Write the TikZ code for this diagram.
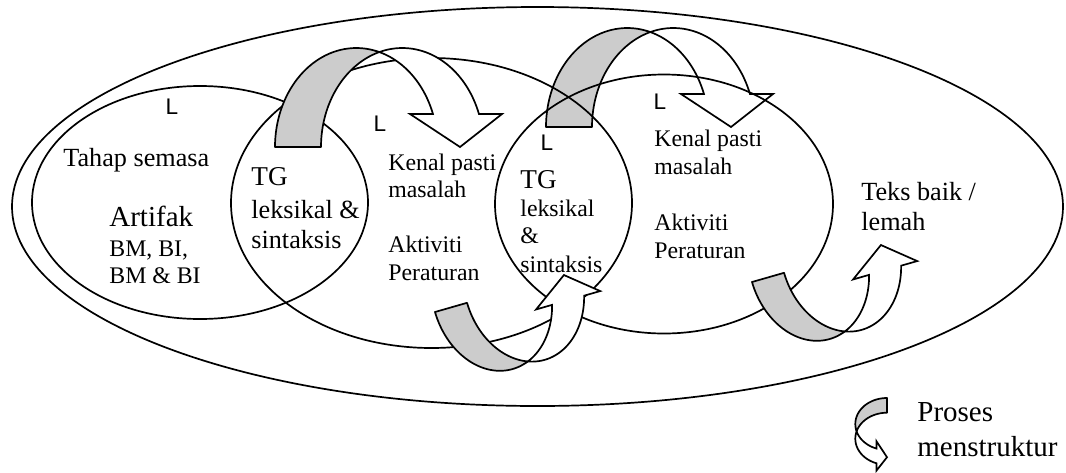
\documentclass[tikz,border=0pt]{standalone}
\usepackage{fontspec}
\setmainfont{Liberation Serif}
\newfontfamily\lfont{Liberation Sans}
\usetikzlibrary{shapes.geometric}

% twisted u-turn arrow: grey from the base up to the fold, white down to the head
\tikzset{
  twistarrow/.pic={
    \filldraw[greyband] (0,0)
      -- plot[arcpts, domain=180:73.57] ({81.3+81.3*cos(\x)},{-99*sin(\x)})
      -- plot[arcpts, domain=106.43:180] ({127.3+81.3*cos(\x)},{-99*sin(\x)})
      -- cycle;
    \filldraw[whiteband] plot[arcpts, domain=106.43:19.47] ({127.3+81.3*cos(\x)},{-99*sin(\x)})
      -- (227,-33) -- (185,0) -- (135,-33)
      -- plot[arcpts, domain=19.47:73.57] ({81.3+81.3*cos(\x)},{-99*sin(\x)})
      -- cycle;
  }
}

\begin{document}
\begin{tikzpicture}[x=0.5pt, y=-0.5pt,
    ring/.style={draw, ellipse, line width=0.85pt, inner sep=0pt},
    greyband/.style={draw, fill=gray!40, line width=0.85pt, line join=round},
    whiteband/.style={draw, fill=white, line width=0.85pt, line join=miter},
    arcpts/.style={samples=40},
    lbl/.style={font=\lfont\fontsize{11.3}{13}\selectfont, inner sep=0pt},
    txt/.style={anchor=base west, inner sep=0pt},
    small/.style={font=\fontsize{11.9}{14}\selectfont},
    mid/.style={font=\fontsize{13.1}{15}\selectfont},
    tg/.style={font=\fontsize{13.6}{16}\selectfont},
    big/.style={font=\fontsize{14.5}{17}\selectfont}]
  \useasboundingbox (0,0) rectangle (1066,472);

  \node[ring, minimum width=525.5pt, minimum height=199.5pt] (luar) at (537.5,206.5) {};
  % this one sits under the two right rings
  \pic at (546,127) {twistarrow};
  \node[ring, minimum width=168pt, minimum height=116.5pt] (semasa) at (200,202.5) {};
  \node[ring, minimum width=200.5pt, minimum height=145pt] (kitar1) at (431.5,203) {};
  \node[ring, minimum width=169pt, minimum height=129.5pt] (kitar2) at (664,204) {};

  \pic at (275,147) {twistarrow};
  \pic[rotate=16, xscale=0.725, yscale=-0.77] at (435,312) {twistarrow};
  \pic[rotate=16, xscale=0.725, yscale=-0.77] at (752,282) {twistarrow};
  % legend
  \pic[rotate=-90, scale=0.32, yscale=-1] at (887,398) {twistarrow};

  \node[lbl] (l1) at (172,107) {L};
  \node[lbl] (l2) at (380,124) {L};
  \node[lbl] (l3) at (547,143) {L};
  \node[lbl] (l4) at (660,102) {L};

  \node[txt, mid] (tahap) at (63,166) {Tahap semasa};
  \node[txt, big] (artifak) at (109,226.7) {Artifak};
  \node[txt, small] (bm1) at (109,256) {BM, BI,};
  \node[txt, small] (bm2) at (109,283) {BM \& BI};

  \node[txt, tg] (tg1) at (251,185.7) {TG};
  \node[txt, mid] (leks1) at (251,218) {leksikal \&};
  \node[txt, mid] (sint1) at (251,248) {sintaksis};

  \node[txt, small] (kenal1) at (388,170.7) {Kenal pasti};
  \node[txt, small] (masalah1) at (388,197.3) {masalah};
  \node[txt, small] (aktiviti1) at (388,252.3) {Aktiviti};
  \node[txt, small] (peraturan1) at (388,280.7) {Peraturan};

  \node[txt, tg] (tg2) at (520,188.3) {TG};
  \node[txt, small] (leks2) at (520,216) {leksikal};
  \node[txt, small] (amp2) at (520,243.3) {\&};
  \node[txt, small] (sint2) at (520,272.3) {sintaksis};

  \node[txt, small] (kenal2) at (654,146.7) {Kenal pasti};
  \node[txt, small] (masalah2) at (654,174) {masalah};
  \node[txt, small] (aktiviti2) at (654,230) {Aktiviti};
  \node[txt, small] (peraturan2) at (654,258.3) {Peraturan};

  \node[txt, mid] (teks) at (861,200) {Teks baik /};
  \node[txt, mid] (lemah) at (861,230.7) {lemah};

  \node[txt, big] (proses) at (917,421) {Proses};
  \node[txt, big] (menstruktur) at (917,456) {menstruktur};
\end{tikzpicture}
\end{document}
